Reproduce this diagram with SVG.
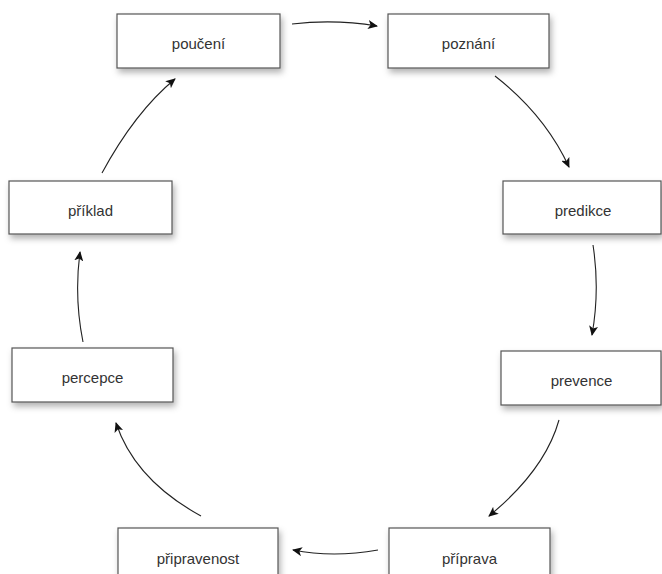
<svg xmlns="http://www.w3.org/2000/svg" width="662" height="574" viewBox="0 0 662 574">
<style>
.box{fill:#fff;stroke:#555;stroke-width:1.2;filter:url(#sh)}
.lbl{font-family:"Liberation Sans",Arial,sans-serif;font-size:15px;fill:#333;text-anchor:middle}
.con{fill:none;stroke:#222;stroke-width:1.1;marker-end:url(#ah)}
</style>
<defs>
<filter id="sh" x="-10%" y="-20%" width="130%" height="160%">
<feDropShadow dx="2" dy="4" stdDeviation="3" flood-color="#000" flood-opacity="0.3"/>
</filter>
<marker id="ah" markerWidth="11" markerHeight="9" refX="9" refY="4.5" orient="auto" markerUnits="userSpaceOnUse">
<path d="M0,0 L10,4.5 L0,9 L2.5,4.5 z" fill="#111"/>
</marker>
</defs>
<rect width="662" height="574" fill="#fff"/>
<g id="connectors">
<path class="con" d="M292,24 Q335,19 377,26"/>
<path class="con" d="M495,76 Q545,115 569,167"/>
<path class="con" d="M593,245 Q600,290 592,335"/>
<path class="con" d="M559,420 Q545,470 489,516"/>
<path class="con" d="M378,550 Q333,558 293,550"/>
<path class="con" d="M201,516 Q135,480 116,423"/>
<path class="con" d="M83,342 Q74,297 80,252"/>
<path class="con" d="M102,173 Q135,112 175,79"/>
</g>
<g id="pouceni"><rect class="box" x="117" y="14" width="163" height="54"/><text class="lbl" x="198.5" y="49">poučení</text></g>
<g id="poznani"><rect class="box" x="388" y="14" width="161" height="54"/><text class="lbl" x="468.5" y="49">poznání</text></g>
<g id="predikce"><rect class="box" x="503" y="181" width="158" height="53"/><text class="lbl" x="583" y="216">predikce</text></g>
<g id="prevence"><rect class="box" x="501" y="351" width="160" height="54"/><text class="lbl" x="581.5" y="386">prevence</text></g>
<g id="priprava"><rect class="box" x="389" y="528" width="161" height="54"/><text class="lbl" x="469.5" y="564">příprava</text></g>
<g id="pripravenost"><rect class="box" x="118" y="528" width="160" height="54"/><text class="lbl" x="198" y="564">připravenost</text></g>
<g id="percepce"><rect class="box" x="12" y="348" width="161" height="54"/><text class="lbl" x="92.5" y="383">percepce</text></g>
<g id="priklad"><rect class="box" x="9" y="181" width="163" height="53"/><text class="lbl" x="90.5" y="216">příklad</text></g>
</svg>
